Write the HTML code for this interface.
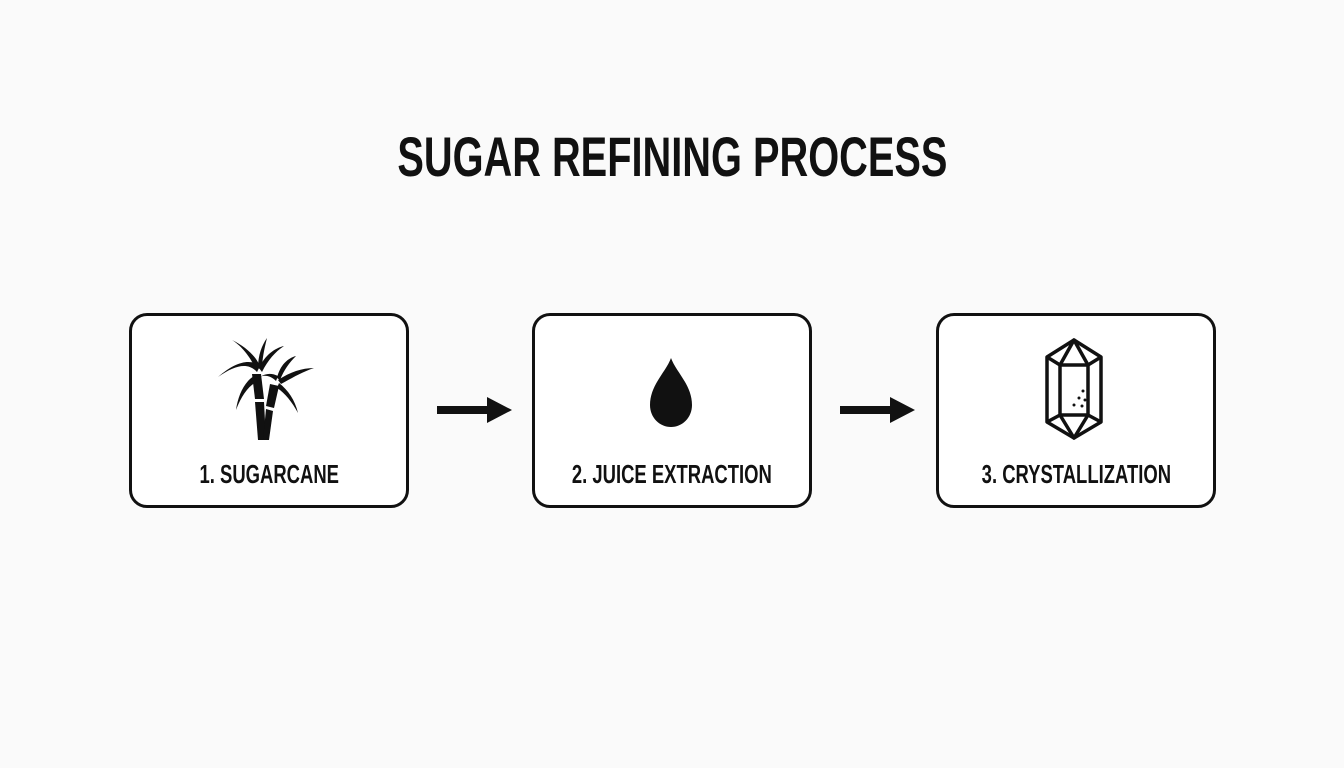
<!DOCTYPE html>
<html><head><style>
body{margin:0;width:1344px;height:768px;background:#fafafa;position:relative;overflow:hidden;font-family:"Liberation Sans",sans-serif;}
.t{position:absolute;left:0;width:1344px;top:124px;text-align:center;font-size:56px;font-weight:bold;color:#111;white-space:nowrap;}
.t span,.l span{display:inline-block;transform:scaleX(0.71);transform-origin:center;}
.b{position:absolute;top:313px;width:274px;height:189px;border:3px solid #111;border-radius:18px;background:#fff;}
.l{position:absolute;left:-50px;right:-50px;top:143px;text-align:center;font-size:26px;font-weight:bold;color:#111;white-space:nowrap;}
</style></head><body>
<div class="t"><span>SUGAR REFINING PROCESS</span></div>
<div class="b" style="left:129px"><div class="l"><span>1. SUGARCANE</span></div></div>
<div class="b" style="left:532px"><div class="l"><span>2. JUICE EXTRACTION</span></div></div>
<div class="b" style="left:936px"><div class="l"><span>3. CRYSTALLIZATION</span></div></div>
<svg width="1344" height="768" style="position:absolute;left:0;top:0">
<g fill="#111">
<rect x="437" y="406" width="52" height="8"/><polygon points="487,397 512,410 487,423"/>
<rect x="840" y="406" width="52" height="8"/><polygon points="890,397 915,410 890,423"/>
<path d="M671,358 C666,372 650,385 650,405 C650,418 660,427 671,427 C682,427 692,418 692,405 C692,385 676,372 671,358Z"/>
<!-- sugarcane -->
<path d="M252,374 L261,374 L264,399 L255,399Z"/>
<path d="M255,402 L264,402 L266,440 L258,440Z"/>
<path d="M270,384 L279,386 L274,408 L266,406Z"/>
<path d="M266,409 L273,411 L269,440 L263,440Z"/>
<path d="M257,372 C250,355 240,345 232,340 C244,346 254,354 259,364Z"/>
<path d="M257,372 C248,362 235,365 218,377 C235,362 250,358 260,366Z"/>
<path d="M256,375 C245,380 238,395 236,410 C242,394 250,384 260,380Z"/>
<path d="M258,368 C258,355 262,345 267,338 C264,350 262,360 262,370Z"/>
<path d="M259,368 C265,355 275,348 284,346 C275,352 268,360 262,372Z"/>
<path d="M276,381 C270,375 263,375 260,377 C266,373 272,373 278,376Z"/>
<path d="M277,378 C280,365 288,358 296,356 C289,363 284,370 280,380Z"/>
<path d="M278,380 C290,372 302,368 314,368 C302,372 292,378 281,384Z"/>
<path d="M279,383 C288,390 295,400 298,413 C292,402 285,393 277,388Z"/>
</g>
<g fill="none" stroke="#111" stroke-width="3.5" stroke-linejoin="round">
<polygon points="1074,340 1101,357 1101,422 1074,438 1047,422 1047,357"/>
<rect x="1060" y="365" width="28" height="50"/>
<polyline points="1047,357 1060,365 1074,340 1088,365 1101,357"/>
<polyline points="1047,422 1060,415 1074,438 1088,415 1101,422"/>
</g>
<g fill="#111"><circle cx="1083" cy="391" r="1.5"/><circle cx="1079" cy="398" r="1.5"/><circle cx="1085" cy="400" r="1.5"/><circle cx="1074" cy="405" r="1.5"/><circle cx="1082" cy="406" r="1.5"/></g>
</svg>
</body></html>
